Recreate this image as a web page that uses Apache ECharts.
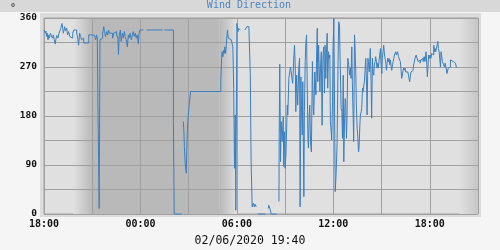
<!DOCTYPE html>
<html><head><meta charset="utf-8">
<script src="https://cdn.jsdelivr.net/npm/echarts/dist/echarts.min.js"></script>
<style>html,body{margin:0;padding:0;background:#f5f5f5;}#c{width:500px;height:250px;}</style>
</head><body><div id="c"></div>
<script>
// minutes after 02/05/2020 18:00
const times = [0,5,7,10,12,15,17,20,24,27,31,35,38,42,45,48,52,56,60,63,67,70,72,75,77,81,85,88,92,96,99,103,107,111,114,118,122,126,129,133,137,140,144,148,159,163,167,170,174,178,182,185,189,193,196,199,201,202,206,209,
215,219,223,226,230,234,238,241,245,249,252,256,260,264,267,271,274,276,278,281,285,288,292,296,300,303,307,311,315,318,322,326,330,333,337,341,344,348,352,354,358,371,372,383,443,444,449,483,486,515,516,520,522,524,527,531,535,538,542,547,
660,663,665,668,670,673,675,678,680,683,685,688,691,695,699,702,705,708,711,714,716,720,724,726,729,731,733,750,753,757,761,765,767,770,773,777,781,785,788,792,794,799,827,829,837,839,843,848,868,870,
877,878,880,883,885,889,893,895,898,900,903,908,910,914,918,920,924,928,930,933,935,938,940,943,945,947,951,954,956,959,961,964,966,970,972,975,977,980,982,985,987,990,992,995,998,1002,1005,1007,1011,1015,1017,1020,1022,1025,1027,1030,1032,1035,1038,1041,1044,1047,1049,1052,1054,1057,1059,1062,1064,1067,1069,1072,1074,1077,1079,1082,1087,1090,1094,1098,
1100,1103,1105,1109,1112,1114,1117,1119,1122,1124,1126,1129,1131,1134,1136,1139,1141,1144,1146,1149,1151,1154,1156,1159,1161,1164,1166,1169,1171,1174,1176,1179,1181,1184,1186,1189,1191,1194,1196,1199,1201,1204,1206,1209,1211,1214,1216,1218,1221,1223,1226,1228,1231,1233,1236,1238,1241,1243,1246,1248,1251,1253,1256,1258,1261,1263,1266,1268,1271,1273,1276,1278,1281,1283,1286,1288,1291,1293,1296,1298,1301,1303,1306,1308,1310,1313,1315,1318,1320,1323,1325,1328,1330,1333,1335,1338,1340,1343,1345,1348,1350,1353,1355,
1358,1361,1365,1368,1370,1374,1378,1381,1385,1389,1393,1396,1400,1404,1407,1411,1415,1419,1422,1426,1429,1431,1434,1436,1439,1441,1444,1447,1451,1455,1457,1460,1462,1465,1467,1470,1472,1475,1477,1480,1482,1485,1487,1490,1492,1495,1497,1501,1504,1507,1509,1513,1517,1521,1524,1528,1532,1536,1539,1542];
// wind direction, degrees
const directions = [338,332,336,326,332,320,329,323,332,328,323,329,320,312,323,328,323,332,329,341,350,341,332,338,344,336,341,329,335,326,329,323,332,338,335,338,332,323,310,332,326,320,323,314,313,314,329,326,329,328,329,328,326,320,329,323,320,173,10,320,
323,332,344,335,326,335,329,338,332,329,332,323,332,329,335,329,332,323,293,329,338,317,332,323,335,326,320,307,329,323,332,320,329,335,326,332,323,329,313,329,338,338,null,338,338,null,338,170,0,0,null,170,154,124,93,75,151,179,200,225,
246,286,298,289,301,295,307,295,307,329,338,323,326,320,320,323,307,231,84,182,7,350,335,341,338,338,null,338,341,344,344,338,341,258,99,13,20,13,18,13,null,0,0,null,10,16,10,0,0,null,
23,148,275,96,170,133,179,87,151,84,108,200,182,249,264,270,255,240,258,292,310,268,188,255,252,200,268,286,13,252,200,145,243,32,188,280,310,329,255,145,121,182,200,133,114,280,197,182,261,219,277,341,243,310,270,225,268,298,163,286,307,222,310,249,292,332,231,298,286,292,170,151,136,206,307,359,41,69,130,292,
353,347,292,194,188,139,255,96,176,212,206,139,176,286,280,280,255,268,249,307,243,176,133,329,307,255,200,157,145,114,121,163,182,188,194,231,225,237,243,268,286,237,182,286,280,261,280,304,243,176,286,261,255,274,280,289,280,268,277,268,283,286,304,277,258,286,301,310,292,286,277,264,277,286,280,286,274,283,270,264,274,280,286,292,295,298,292,289,298,289,292,289,280,264,249,255,264,268,264,268,261,258,261,
261,258,243,255,261,264,268,277,286,292,289,280,283,277,283,286,280,289,280,298,274,252,277,292,286,292,286,295,292,310,298,304,298,304,307,317,304,298,286,270,298,289,280,283,274,270,277,268,258,261,268,270,283,283,280,280,277,274,270,270];
const xTickLabels = ['18:00','00:00','06:00','12:00','18:00'];
const yTickLabels = ['0','90','180','270','360'];
const titleText = 'Wind Direction';
const unitText = '°';
const stampText = '02/06/2020 19:40';
// night shading (minutes after start)
const duskStart = 110, nightStart = 180, nightEnd = 656, dawnEnd = 720, eveStart = 1550, axisEnd = 1620;

const data = times.map((t, i) => [t, directions[i]]);
const chart = echarts.init(document.getElementById('c'));
const LG = echarts.graphic.LinearGradient;
const LIGHT = '#e0e0e0', DARK = '#b9b9b9', GRID = '#a0a0a0';
chart.setOption({
  animation: false,
  backgroundColor: '#f5f5f5',
  grid: {left: 44, top: 18, width: 434, height: 196, show: true, backgroundColor: LIGHT, borderColor: GRID, borderWidth: 1},
  xAxis: {type: 'value', min: 0, max: axisEnd, interval: 180, z: 3,
    axisLine: {show: false}, axisTick: {show: false},
    splitLine: {show: true, lineStyle: {color: GRID, width: 1}},
    axisLabel: {margin: 5, color: '#111', fontFamily: 'DejaVu Sans Mono', fontSize: 10, fontWeight: 'bold',
      formatter: v => (v % 360 === 0 ? xTickLabels[v / 360] : '')}},
  yAxis: {type: 'value', min: 0, max: 360, interval: 45, z: 3,
    axisLine: {show: false}, axisTick: {show: false},
    splitLine: {show: true, lineStyle: {color: GRID, width: 1}},
    axisLabel: {margin: 7, color: '#111', fontFamily: 'DejaVu Sans Mono', fontSize: 9.5, fontWeight: 'bold',
      formatter: v => (v % 90 === 0 ? yTickLabels[v / 90] : '')}},
  series: [
    {type: 'line', z: 1, data: [], silent: true,
      markArea: {silent: true, data: [
        [{xAxis: duskStart, itemStyle: {color: new LG(0, 0, 1, 0, [{offset: 0, color: LIGHT}, {offset: 1, color: DARK}])}}, {xAxis: nightStart}],
        [{xAxis: nightStart, itemStyle: {color: DARK}}, {xAxis: nightEnd}],
        [{xAxis: nightEnd, itemStyle: {color: new LG(0, 0, 1, 0, [{offset: 0, color: DARK}, {offset: 1, color: LIGHT}])}}, {xAxis: dawnEnd}],
        [{xAxis: eveStart, itemStyle: {color: new LG(0, 0, 1, 0, [{offset: 0, color: LIGHT}, {offset: 1, color: '#c6c6c6'}])}}, {xAxis: axisEnd}]
      ]}},
    {type: 'line', z: 4, data: data, step: 'end', symbol: 'none', showSymbol: false, clip: false, connectNulls: false,
      lineStyle: {color: '#3a7fc0', width: 1}}
  ],
  graphic: [
    {type: 'rect', z: -1, shape: {x: 0, y: 0, width: 500, height: 12}, style: {fill: '#d8d8d8'}},
    {type: 'rect', z: -1, shape: {x: 40, y: 13, width: 441, height: 204}, style: {fill: '#dcdcdc'}},
    {type: 'text', z: 5, style: {text: titleText, x: 249, y: 5.5, textAlign: 'center', textVerticalAlign: 'middle', fill: '#4a86c4', font: '10px "DejaVu Sans Mono"'}},
    {type: 'text', z: 5, style: {text: unitText, x: 13, y: 8, textAlign: 'center', textVerticalAlign: 'middle', fill: '#111', font: '10px "DejaVu Sans Mono"'}},
    {type: 'text', z: 5, style: {text: stampText, x: 250, y: 241.5, textAlign: 'center', textVerticalAlign: 'middle', fill: '#111', font: '11.5px "DejaVu Sans Mono"'}}
  ]
});
</script></body></html>
